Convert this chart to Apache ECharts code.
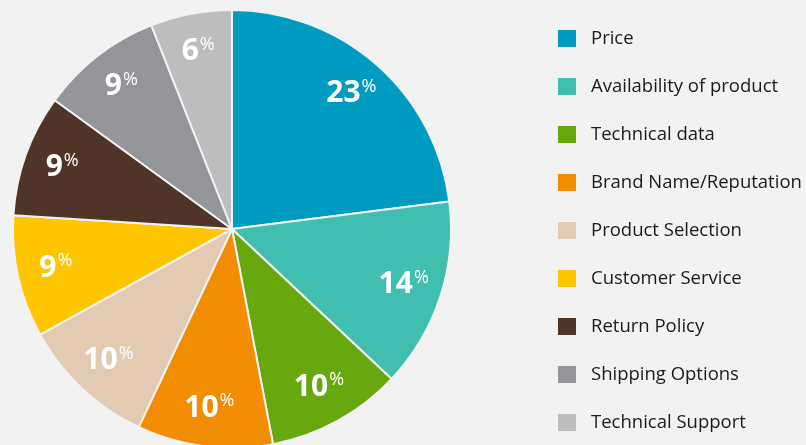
<!DOCTYPE html>
<html><head><meta charset="utf-8">
<script src="https://cdn.jsdelivr.net/npm/echarts@6/dist/echarts.min.js"></script>
<style>html,body{margin:0;padding:0;background:#f2f2f2;}#c{width:806px;height:445px;}</style>
</head><body><div id="c"></div>
<script>
const categories = ["Price","Availability of product","Technical data","Brand Name/Reputation","Product Selection","Customer Service","Return Policy","Shipping Options","Technical Support"];
const values = [23,14,10,10,10,9,9,9,6];
const colors = ["#009bc1","#40bfb0","#67a80f","#f28c00","#e3cab2","#ffc600","#4f3427","#949598","#bcbdbf"];

const data = categories.map((n,i)=>({name:n,value:values[i],itemStyle:{color:colors[i]}}));
const chart = echarts.init(document.getElementById('c'));
chart.setOption({
  backgroundColor:'#f2f2f2',
  animation:false,
  legend:{
    orient:'vertical', left:551, top:23, padding:5, height:430,
    data:categories,
    itemWidth:20, itemHeight:19, itemGap:27, icon:'rect',
    textStyle:{fontFamily:'Open Sans', fontSize:18.5, lineHeight:19, color:'#1a1a1a', padding:[0,0,0,9]}
  },
  series:[
    {type:'pie', center:[232,229], radius:[0,219], startAngle:90, clockwise:true,
     data:data, label:{show:false}, labelLine:{show:false},
     itemStyle:{borderColor:'#f2f2f2', borderWidth:2}, silent:true},
    {type:'pie', center:[232,229], radius:[136,219], startAngle:90, clockwise:true,
     data:categories.map((n,i)=>({name:n,value:values[i],itemStyle:{color:'rgba(0,0,0,0)'}})),
     labelLine:{show:false}, silent:true, legendHoverLink:false,
     label:{show:true, position:'inside', formatter:p=>'{a|'+p.value+'}{b|%}',
       rich:{a:{fontFamily:'Open Sans', fontWeight:'bold', fontSize:30, color:'#fff', lineHeight:32},
             b:{fontFamily:'Open Sans', fontSize:18, color:'#fff', verticalAlign:'top', lineHeight:32, padding:[0,0,10,1]}}}}
  ]
});
</script></body></html>
